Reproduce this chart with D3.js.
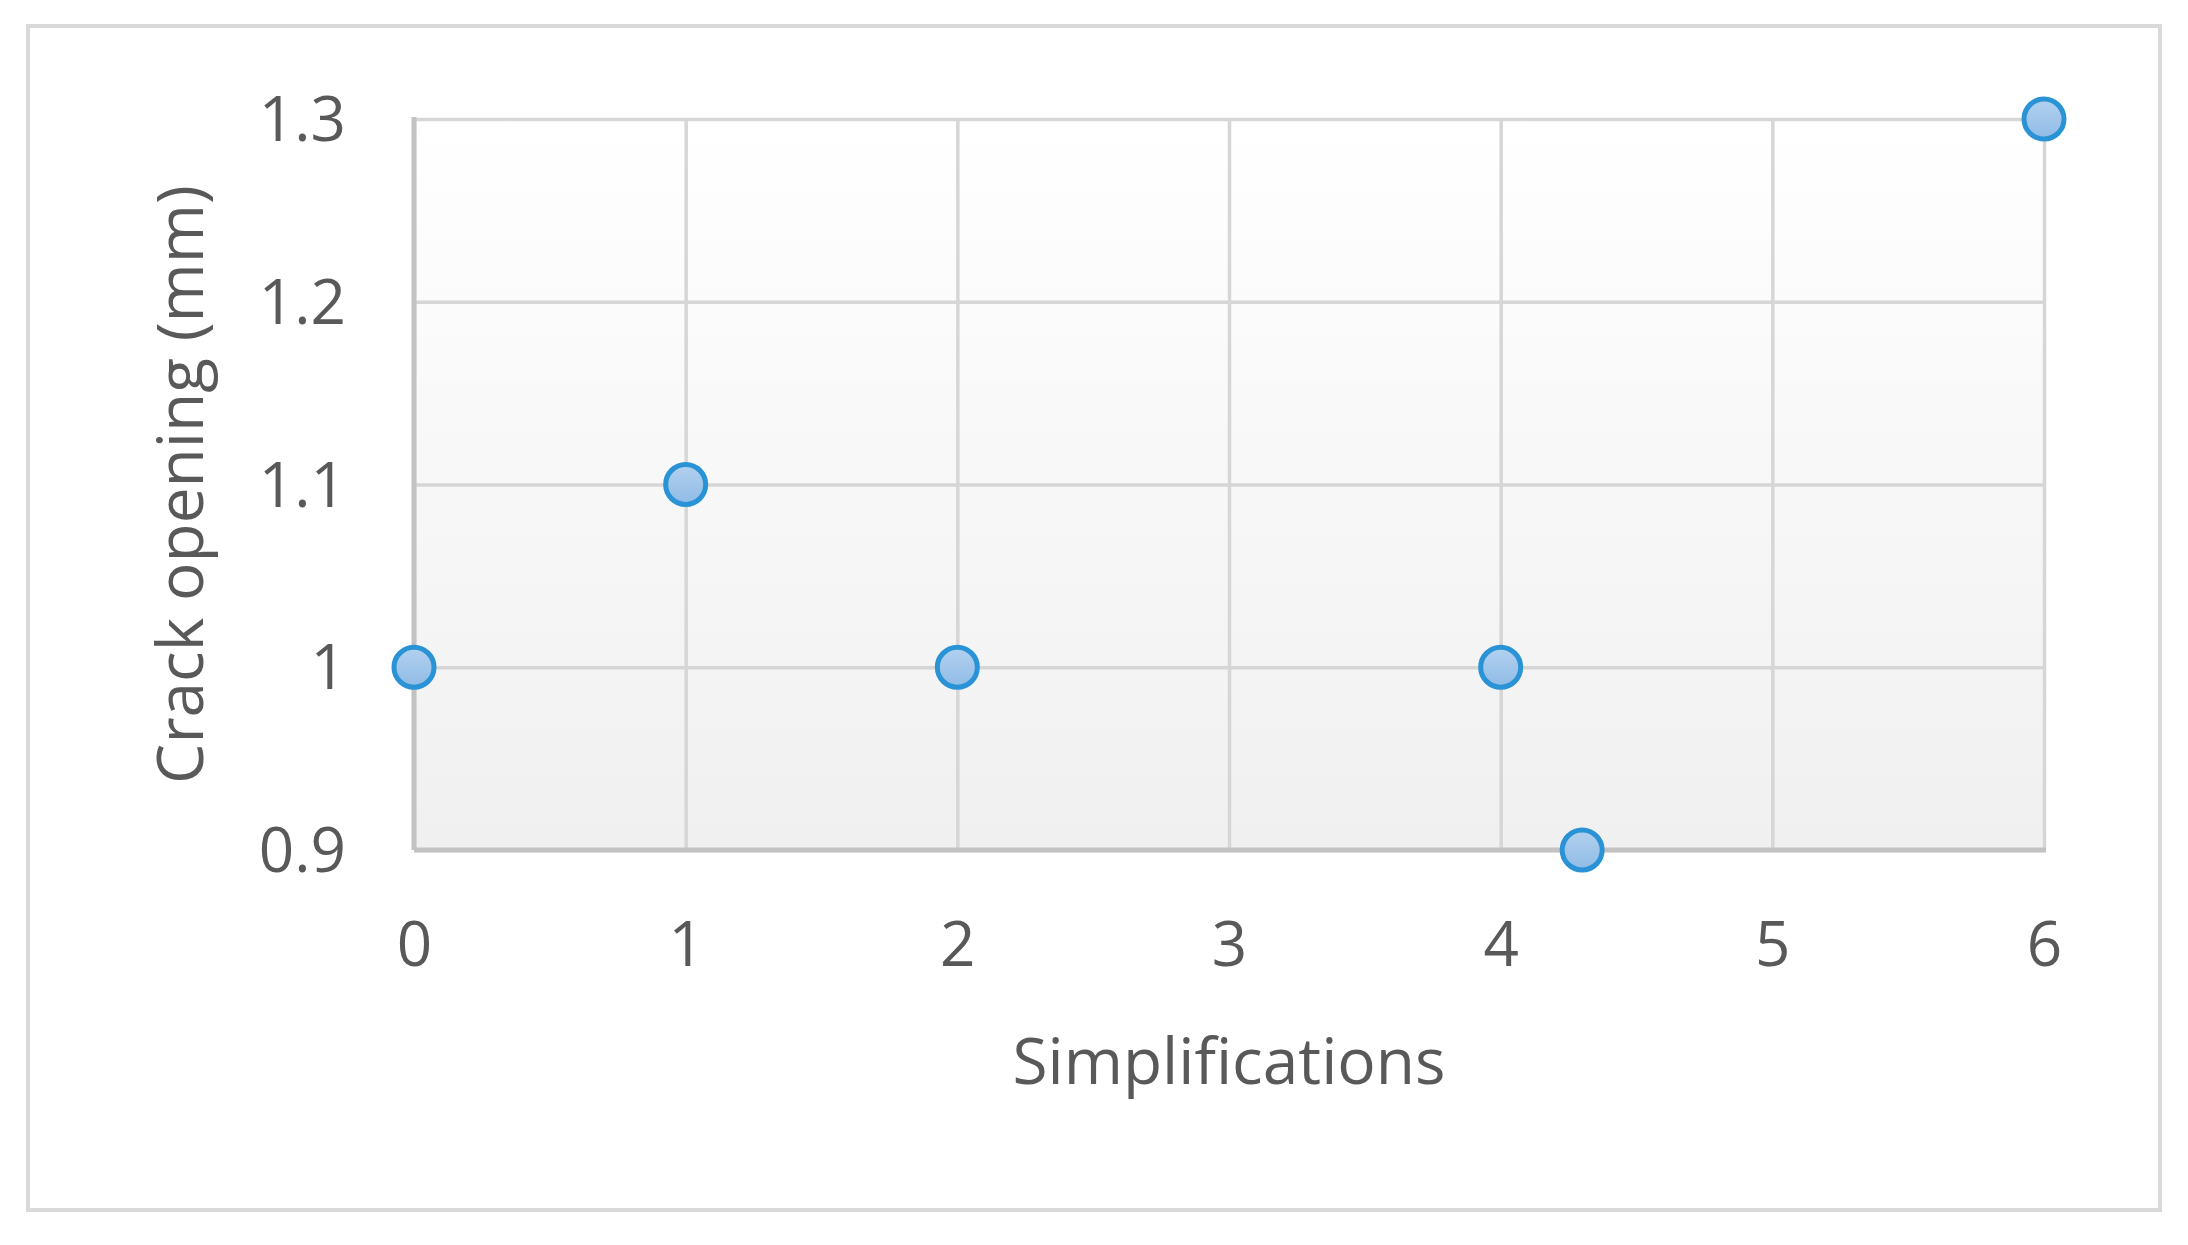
<!DOCTYPE html>
<html>
<head>
<meta charset="utf-8">
<script src="https://cdn.jsdelivr.net/npm/d3@7"></script>
<style>
html,body{margin:0;padding:0;background:#fff;}
svg{display:block;}
</style>
</head>
<body>
<script>
const xValues = [0, 1, 2, 4, 4.3, 6];
const yValues = [1, 1.1, 1, 1, 0.9, 1.3];
const xTicks = [0, 1, 2, 3, 4, 5, 6];
const yTicks = [0.9, 1, 1.1, 1.2, 1.3];
const xTitle = "Simplifications";
const yTitle = "Crack opening (mm)";

const W = 2188, H = 1245;
const plot = {left: 414, right: 2044, top: 119, bottom: 850};
const textColor = "#595959";
const font = "'Open Sans', 'Noto Sans', sans-serif";

const svg = d3.select("body").append("svg").attr("width", W).attr("height", H);
const defs = svg.append("defs");
const bg = defs.append("linearGradient").attr("id","bg").attr("x1",0).attr("y1",0).attr("x2",0).attr("y2",1);
bg.append("stop").attr("offset","0%").attr("stop-color","#ffffff");
bg.append("stop").attr("offset","100%").attr("stop-color","#f0f0f0");
const mk = defs.append("linearGradient").attr("id","mk").attr("x1",0).attr("y1",0).attr("x2",0).attr("y2",1);
mk.append("stop").attr("offset","0%").attr("stop-color","#b3d1ef");
mk.append("stop").attr("offset","100%").attr("stop-color","#8fbbe6");

// outer frame
svg.append("rect").attr("x", 28).attr("y", 26).attr("width", 2132).attr("height", 1184)
  .attr("fill", "#fff").attr("stroke", "#d9d9d9").attr("stroke-width", 4);

const x = d3.scaleLinear().domain([0, 6]).range([plot.left, plot.right]);
const y = d3.scaleLinear().domain([0.9, 1.3]).range([plot.bottom, plot.top]);

// plot background
svg.append("rect").attr("x", plot.left).attr("y", plot.top)
  .attr("width", plot.right - plot.left).attr("height", plot.bottom - plot.top)
  .attr("fill", "url(#bg)");

// gridlines via axes
const gx = svg.append("g").attr("transform", `translate(0,${plot.bottom})`)
  .call(d3.axisBottom(x).tickValues(xTicks).tickSize(-(plot.bottom - plot.top)).tickFormat(""));
const gy = svg.append("g").attr("transform", `translate(${plot.left},0)`)
  .call(d3.axisLeft(y).tickValues(yTicks).tickSize(-(plot.right - plot.left)).tickFormat(""));
[gx, gy].forEach(g => {
  g.select(".domain").remove();
  g.selectAll(".tick line").attr("stroke", "#d6d6d6").attr("stroke-width", 3.5);
});

// plot frame (left & bottom darker)
svg.append("line").attr("x1", plot.left).attr("x2", plot.left).attr("y1", plot.top - 2).attr("y2", plot.bottom)
  .attr("stroke", "#c2c2c2").attr("stroke-width", 5);
svg.append("line").attr("x1", plot.left).attr("x2", plot.right + 2).attr("y1", plot.bottom).attr("y2", plot.bottom)
  .attr("stroke", "#c2c2c2").attr("stroke-width", 5);

// tick labels
const xl = svg.append("g").attr("transform", `translate(0,${plot.bottom + 116})`)
  .call(d3.axisBottom(x).tickValues(xTicks).tickSize(0).tickPadding(0).tickFormat(d3.format("d")));
xl.select(".domain").remove();
xl.selectAll("text").attr("dy", 0).attr("font-family", font).attr("font-size", 62).attr("fill", textColor);

const yl = svg.append("g").attr("transform", `translate(${plot.left - 68},0)`)
  .call(d3.axisLeft(y).tickValues(yTicks).tickSize(0).tickPadding(0).tickFormat(d => d3.format("")(+d.toFixed(1))));
yl.select(".domain").remove();
yl.selectAll("text").attr("dy", "0.35em").attr("font-family", font).attr("font-size", 62).attr("fill", textColor);

// axis titles
svg.append("text").attr("x", (plot.left + plot.right) / 2).attr("y", 1084)
  .attr("text-anchor", "middle").attr("font-family", font).attr("font-size", 64).attr("fill", textColor)
  .text(xTitle);
svg.append("text").attr("transform", `translate(203,${(plot.top + plot.bottom) / 2}) rotate(-90)`)
  .attr("text-anchor", "middle").attr("font-family", font).attr("font-size", 64).attr("fill", textColor)
  .text(yTitle);

// markers
svg.append("g").selectAll("circle").data(xValues.map((v, i) => [v, yValues[i]])).join("circle")
  .attr("cx", d => x(d[0])).attr("cy", d => y(d[1])).attr("r", 20)
  .attr("fill", "url(#mk)").attr("stroke", "#2a93d5").attr("stroke-width", 5);
</script>
</body>
</html>
